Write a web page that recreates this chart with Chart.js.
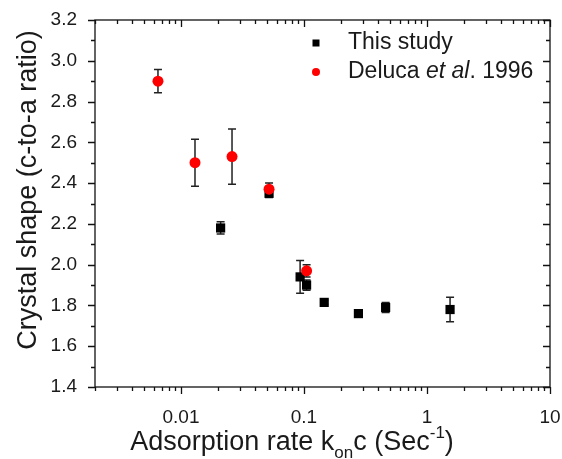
<!DOCTYPE html>
<html>
<head>
<meta charset="utf-8">
<script src="https://cdn.jsdelivr.net/npm/chart.js@4"></script>
<style>
  html,body{margin:0;padding:0;background:#fff;}
  #wrap{width:562px;height:459px;position:relative;}
</style>
</head>
<body>
<div id="wrap"><canvas id="c" width="562" height="459"></canvas></div>
<script>
// ---- data ----
const studyX   = [0.021, 0.052, 0.093, 0.105, 0.146, 0.277, 0.461, 1.54];
const studyY   = [2.18, 2.35, 1.94, 1.90, 1.815, 1.76, 1.79, 1.78];
const studyErr = [0.03, 0.02, 0.08, 0.025, 0.01, 0.01, 0.025, 0.06];

const delucaX   = [0.0065, 0.013, 0.026, 0.052, 0.105];
const delucaY   = [2.90, 2.50, 2.53, 2.37, 1.97];
const delucaErr = [0.057, 0.115, 0.135, 0.03, 0.03];

const xTickValues = [0.01, 0.1, 1, 10];
const xTickLabels = ['0.01', '0.1', '1', '10'];
const yMin = 1.4, yMax = 3.2, yStep = 0.2;

const FONT = '"Liberation Sans", Arial, sans-serif';
const TXT = '#1a1a1a';

function pts(xs, ys){ return xs.map((x,i)=>({x:x, y:ys[i]})); }

const errorBars = {
  id:'errorBars',
  beforeDatasetsDraw(chart){
    const ctx = chart.ctx, xs = chart.scales.x, ys = chart.scales.y;
    ctx.save();
    ctx.strokeStyle = '#222';
    ctx.lineWidth = 1.5;
    const sets = [[studyX, studyY, studyErr],[delucaX, delucaY, delucaErr]];
    sets.forEach(([X,Y,E])=>{
      X.forEach((x,i)=>{
        const px = xs.getPixelForValue(x);
        const top = ys.getPixelForValue(Y[i]+E[i]);
        const bot = ys.getPixelForValue(Y[i]-E[i]);
        ctx.beginPath();
        ctx.moveTo(px, top); ctx.lineTo(px, bot);
        ctx.moveTo(px-4, top); ctx.lineTo(px+4, top);
        ctx.moveTo(px-4, bot); ctx.lineTo(px+4, bot);
        ctx.stroke();
      });
    });
    ctx.restore();
  }
};

const frameAndTicks = {
  id:'frameAndTicks',
  afterDraw(chart){
    const ctx = chart.ctx, a = chart.chartArea, xs = chart.scales.x, ys = chart.scales.y;
    ctx.save();
    ctx.strokeStyle = '#111';
    ctx.lineWidth = 1.3;
    ctx.strokeRect(a.left, a.top, a.right-a.left, a.bottom-a.top);
    ctx.beginPath();
    for(let d=-3; d<=1; d++){
      for(let m=1; m<=9; m++){
        const v = m*Math.pow(10,d);
        if(v < xs.min*0.999 || v > xs.max*1.001) continue;
        const px = Math.round(xs.getPixelForValue(v))+0.5;
        const len = (m===1) ? 7 : 4;
        ctx.moveTo(px, a.bottom); ctx.lineTo(px, a.bottom+len);
        ctx.moveTo(px, a.top); ctx.lineTo(px, a.top+len);
      }
    }
    for(let k=0; k<=Math.round((yMax-yMin)/(yStep/2)); k++){
      const v = yMin + k*yStep/2;
      const py = Math.round(ys.getPixelForValue(v))+0.5;
      const len = (k%2===0) ? 7 : 4;
      ctx.moveTo(a.left, py); ctx.lineTo(a.left-len, py);
      ctx.moveTo(a.right, py); ctx.lineTo(a.right-len, py);
    }
    ctx.stroke();

    // y title
    ctx.fillStyle = TXT;
    ctx.font = '27px ' + FONT;
    ctx.save();
    ctx.translate(29, 190);
    ctx.rotate(-Math.PI/2);
    ctx.textAlign = 'center';
    ctx.textBaseline = 'middle';
    ctx.fillText('Crystal shape (c-to-a ratio)', 0, 0);
    ctx.restore();

    // x title with sub/superscript
    const big = '27px ' + FONT, small = '17px ' + FONT;
    const parts = [
      {t:'Adsorption rate k', f:big, dy:0},
      {t:'on', f:small, dy:8},
      {t:'c (Sec', f:big, dy:0},
      {t:'-1', f:small, dy:-12},
      {t:')', f:big, dy:0}
    ];
    let total = 0;
    parts.forEach(p=>{ ctx.font = p.f; p.w = ctx.measureText(p.t).width; total += p.w; });
    let x = 292 - total/2;
    const base = 450;
    ctx.textAlign = 'left';
    ctx.textBaseline = 'alphabetic';
    parts.forEach(p=>{ ctx.font = p.f; ctx.fillText(p.t, x, base + p.dy); x += p.w; });

    // legend
    const l1y = 43, l2y = 72, mx = 316, tx = 348;
    ctx.fillStyle = '#000';
    ctx.fillRect(mx-3.5, l1y-3.5, 7, 7);
    ctx.fillStyle = '#ff0000';
    ctx.beginPath(); ctx.arc(mx, l2y, 4, 0, Math.PI*2); ctx.fill();
    ctx.fillStyle = TXT;
    ctx.textBaseline = 'middle';
    ctx.font = '23px ' + FONT;
    ctx.fillText('This study', tx, l1y);
    let lx = tx;
    const seg = [
      {t:'Deluca ', f:'23px ' + FONT},
      {t:'et al', f:'italic 23px ' + FONT},
      {t:'. 1996', f:'23px ' + FONT}
    ];
    seg.forEach(s=>{ ctx.font = s.f; ctx.fillText(s.t, lx, l2y); lx += ctx.measureText(s.t).width; });
    ctx.restore();
  }
};

new Chart(document.getElementById('c'), {
  type:'scatter',
  data:{
    datasets:[
      { label:'Deluca et al. 1996', data:pts(delucaX, delucaY),
        pointStyle:'circle', pointRadius:5.5, pointHoverRadius:5.5,
        backgroundColor:'#ff0000', borderColor:'#ff0000', borderWidth:0 },
      { label:'This study', data:pts(studyX, studyY),
        pointStyle:'rect', pointRadius:6.5, pointHoverRadius:6.5,
        backgroundColor:'#000', borderColor:'#000', borderWidth:0 }
    ]
  },
  plugins:[errorBars, frameAndTicks],
  options:{
    responsive:false,
    animation:false,
    events:[],
    layout:{padding:{left:0, right:12, top:20, bottom:0}},
    plugins:{ legend:{display:false}, title:{display:false}, tooltip:{enabled:false} },
    scales:{
      x:{
        type:'logarithmic', min:0.002, max:10,
        grid:{display:false},
        border:{display:false},
        afterBuildTicks(s){ s.ticks = xTickValues.map(v=>({value:v, major:true})); },
        afterFit(s){ s.height = 72; s.paddingRight = 0; s.paddingLeft = 0; },
        ticks:{
          autoSkip:false, maxRotation:0, padding:11, color:TXT,
          font:{family:FONT, size:19},
          callback(v){ const i = xTickValues.indexOf(v); return i>=0 ? xTickLabels[i] : ''; }
        }
      },
      y:{
        type:'linear', min:yMin, max:yMax,
        grid:{display:false},
        border:{display:false},
        afterFit(s){ s.width = 95; s.paddingTop = 0; s.paddingBottom = 0; },
        ticks:{
          stepSize:yStep, padding:10, color:TXT,
          font:{family:FONT, size:19},
          callback(v){ return Number(v).toFixed(1); }
        }
      }
    }
  }
});
</script>
</body>
</html>
